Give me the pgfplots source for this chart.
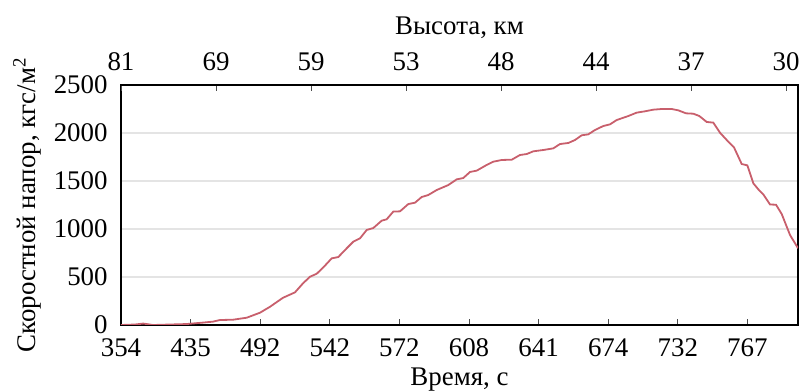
\documentclass[border=0pt]{standalone}
\usepackage{fontspec}
\setmainfont{Liberation Serif}
\usepackage{pgfplots}
\usepackage{pgfplotstable}
\pgfplotsset{compat=1.18}
\definecolor{qline}{RGB}{200,95,108}
\definecolor{gridgray}{RGB}{228,228,228}

% position on the time scale (tick index) vs dynamic pressure, kgf/m^2
\pgfplotstableread{
u q
0.000 0
0.200 5
0.320 15
0.460 0
0.944 10
1.178 25
1.322 35
1.422 52
1.609 55
1.806 76
1.997 128
2.141 190
2.328 284
2.500 340
2.615 434
2.716 503
2.812 534
2.907 600
3.027 694
3.122 708
3.243 799
3.338 868
3.434 903
3.530 990
3.625 1010
3.746 1087
3.817 1101
3.912 1181
4.009 1184
4.128 1260
4.224 1274
4.320 1333
4.415 1354
4.536 1406
4.703 1458
4.823 1517
4.918 1531
5.014 1594
5.111 1608
5.254 1667
5.349 1701
5.470 1719
5.614 1722
5.733 1771
5.829 1781
5.924 1809
6.068 1823
6.211 1840
6.307 1885
6.427 1896
6.523 1927
6.619 1976
6.714 1986
6.810 2031
6.930 2073
7.026 2090
7.122 2135
7.289 2177
7.409 2212
7.529 2226
7.648 2243
7.769 2250
7.912 2250
8.007 2236
8.118 2205
8.223 2201
8.309 2177
8.415 2115
8.510 2108
8.606 2003
8.703 1927
8.807 1851
8.918 1677
8.999 1663
9.085 1476
9.157 1413
9.228 1361
9.325 1255
9.411 1253
9.493 1156
9.612 938
9.727 800
}\qdata

\begin{document}
\begin{tikzpicture}
\pgfplotsset{
  common/.style={
    width=338.5bp, height=120bp, scale only axis,
    xmin=0, xmax=9.727, ymin=0, ymax=2500,
    /pgf/number format/assume math mode=true,
    /pgf/number format/1000 sep={},
    tick label style={font=\fontsize{13.5}{16}\selectfont, inner sep=0pt},
    label style={font=\fontsize{13.5}{16}\selectfont},
    tick align=inside,
    major tick length=3bp,
    axis line style={line width=0.7bp},
    xtick style={draw=black!70, line width=0.5bp},
  },
}
\begin{axis}[common, name=ax,
  xtick={0,...,9},
  xticklabels={354,435,492,542,572,608,641,674,732,767},
  xtick pos=lower,
  xticklabel style={anchor=north, yshift=-6.5bp},
  ytick={0,500,...,2500},
  ytick pos=left,
  ytick style={draw=none},
  yticklabel style={anchor=east, xshift=-6.5bp},
  scaled y ticks=false,
  ymajorgrids,
  grid style={gridgray, line width=0.7bp},
  xlabel={Время, с},
  xlabel style={at={([yshift=-30bp]rel axis cs:0.5,0)}, anchor=base},
  ylabel={Скоростной напор, кгс/м\textsuperscript{2}},
  ylabel style={at={([xshift=-42.5bp]rel axis cs:0,0.5)}, anchor=base, rotate=0},
]
\addplot[qline, line width=0.9bp] table[x=u, y=q] {\qdata};
\end{axis}
\begin{axis}[common,
  axis x line*=top,
  axis y line=none,
  xtick={0,1.365,2.730,4.095,5.460,6.825,8.190,9.555},
  xticklabels={81,69,59,53,48,44,37,30},
  xticklabel style={anchor=south, yshift=7bp},
  xlabel={Высота, км},
  xlabel style={at={([yshift=25bp]rel axis cs:0.5,1)}, anchor=base},
]
\end{axis}
\pgfresetboundingbox
\path[use as bounding box] ([shift={(-60.5bp,-33.5bp)}]ax.south west) rectangle ([shift={(2.5bp,42.5bp)}]ax.north east);
\end{tikzpicture}
\end{document}
